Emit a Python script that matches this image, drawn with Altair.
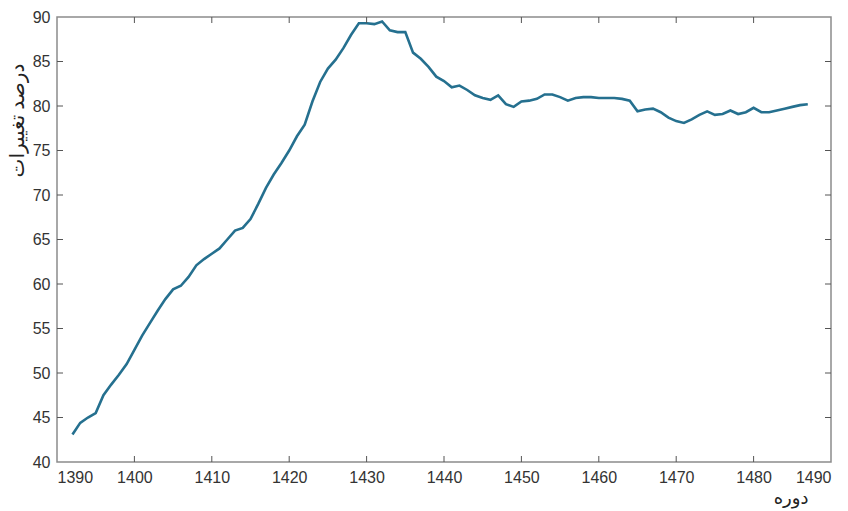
import altair as alt
import pandas as pd

years = list(range(1392, 1488))
values = [
    43.1, 44.4, 45.0, 45.5, 47.5, 48.7, 49.8, 51.0, 52.6, 54.2,   # 1392-1401
    55.6, 57.0, 58.3, 59.4, 59.8, 60.8, 62.1, 62.8, 63.4, 64.0,   # 1402-1411
    65.0, 66.0, 66.3, 67.3, 69.0, 70.8, 72.3, 73.6, 75.0, 76.6,   # 1412-1421
    77.9, 80.5, 82.7, 84.2, 85.2, 86.5, 88.0, 89.3, 89.3, 89.2,   # 1422-1431
    89.5, 88.5, 88.3, 88.3, 86.0, 85.3, 84.4, 83.3, 82.8, 82.1,   # 1432-1441
    82.3, 81.8, 81.2, 80.9, 80.7, 81.2, 80.2, 79.9, 80.5, 80.6,   # 1442-1451
    80.8, 81.3, 81.3, 81.0, 80.6, 80.9, 81.0, 81.0, 80.9, 80.9,   # 1452-1461
    80.9, 80.8, 80.6, 79.4, 79.6, 79.7, 79.3, 78.7, 78.3, 78.1,   # 1462-1471
    78.5, 79.0, 79.4, 79.0, 79.1, 79.5, 79.1, 79.3, 79.8, 79.3,   # 1472-1481
    79.3, 79.5, 79.7, 79.9, 80.1, 80.2                            # 1482-1487
]
x_tick_values = [1390, 1400, 1410, 1420, 1430, 1440, 1450, 1460, 1470, 1480, 1490]
y_tick_values = [40, 45, 50, 55, 60, 65, 70, 75, 80, 85, 90]
x_inner_ticks = [1400, 1410, 1420, 1430, 1440, 1450, 1460, 1470, 1480]
y_inner_ticks = [45, 50, 55, 60, 65, 70, 75, 80, 85]
x_title = "دوره"
y_title = "درصد تغییرات"

W, H = 774, 445
df = pd.DataFrame({"year": years, "value": values})
xs = alt.Scale(domain=[1390, 1490], nice=False, zero=False)
ys = alt.Scale(domain=[40, 90], nice=False, zero=False)
title_font = "Times New Roman, Liberation Serif, DejaVu Sans"
label_font = "Arial, Liberation Sans"

x_axis = alt.Axis(
    values=x_tick_values, format="d", ticks=False, grid=False, domain=False,
    labelFont=label_font, labelFontSize=16, labelColor="#333333", labelPadding=7,
    title=x_title, titleFont=title_font, titleFontSize=18, titleFontWeight="normal",
    titleColor="#222222", titleX=751, titleY=36, titleAlign="right",
    titleBaseline="middle", titleAnchor="start")
y_axis = alt.Axis(
    values=y_tick_values, ticks=False, grid=False, domain=False,
    labelFont=label_font, labelFontSize=16, labelColor="#333333", labelPadding=7,
    title=y_title, titleFont=title_font, titleFontSize=20, titleFontWeight="normal",
    titleColor="#222222", titleX=-40, titleY=103, titleAngle=-90,
    titleAlign="center", titleBaseline="middle", titleAnchor="start")

line = alt.Chart(df).mark_line(color="#25708f", strokeWidth=2.6).encode(
    x=alt.X("year:Q", scale=xs, axis=x_axis),
    y=alt.Y("value:Q", scale=ys, axis=y_axis),
)

xt = pd.DataFrame({"t": x_inner_ticks})
yt = pd.DataFrame({"t": y_inner_ticks})
tick_color = "#555555"
xb = alt.Chart(xt).mark_rule(color=tick_color, strokeWidth=1).encode(
    x=alt.X("t:Q", scale=xs, axis=x_axis), y=alt.value(H), y2=alt.value(H - 6))
xtop = alt.Chart(xt).mark_rule(color=tick_color, strokeWidth=1).encode(
    x=alt.X("t:Q", scale=xs, axis=x_axis), y=alt.value(0), y2=alt.value(6))
yl = alt.Chart(yt).mark_rule(color=tick_color, strokeWidth=1).encode(
    y=alt.Y("t:Q", scale=ys, axis=y_axis), x=alt.value(0), x2=alt.value(6))
yr = alt.Chart(yt).mark_rule(color=tick_color, strokeWidth=1).encode(
    y=alt.Y("t:Q", scale=ys, axis=y_axis), x=alt.value(W), x2=alt.value(W - 6))

chart = alt.layer(line, xb, xtop, yl, yr).properties(
    width=W, height=H,
    autosize=alt.AutoSizeParams(type="none"),
    padding={"left": 57, "top": 17, "right": 17, "bottom": 49},
    background="white",
).configure_view(stroke="#8c8c8c", strokeWidth=1.5)

chart.save("out.html", embed_options={"renderer": "svg", "actions": False})
